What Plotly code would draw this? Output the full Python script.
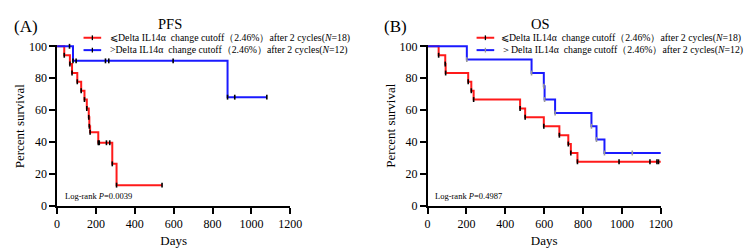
import plotly.graph_objects as go

# ---------------- data ----------------
# PFS (panel A)
pfs_low_days = [0, 37, 66, 77, 104, 124, 141, 153, 163, 166, 170, 212, 284, 306, 540]
pfs_low_surv = [100, 94.4, 88.9, 83.3, 77.8, 72.2, 66.7, 61.1, 55.6, 50.0, 46.3, 39.7, 26.5, 13.2, 13.2]
pfs_low_cens_days = [217, 254, 271, 540]
pfs_low_cens_surv = [39.7, 39.7, 39.7, 13.2]

pfs_high_days = [0, 82, 877, 1079]
pfs_high_surv = [100, 90.9, 68.2, 68.2]
pfs_high_cens_days = [64, 98, 249, 266, 597, 914, 1079]
pfs_high_cens_surv = [100, 90.9, 90.9, 90.9, 90.9, 68.2, 68.2]

# OS (panel B)
os_low_days = [0, 57, 91, 93, 209, 225, 237, 476, 502, 598, 678, 724, 737, 771, 1200]
os_low_surv = [100, 94.4, 88.9, 83.3, 77.8, 72.2, 66.7, 61.1, 55.6, 50.0, 44.4, 38.9, 33.3, 27.8, 27.8]
os_low_cens_days = [985, 1144, 1180, 1188]
os_low_cens_surv = [27.8, 27.8, 27.8, 27.8]

os_high_days = [0, 202, 535, 598, 602, 656, 843, 869, 910, 1200]
os_high_surv = [100, 91.7, 83.3, 75.0, 66.7, 58.3, 50.0, 41.7, 33.3, 33.3]
os_high_cens_days = [1053]
os_high_cens_surv = [33.3]

x_ticks = [0, 200, 400, 600, 800, 1000, 1200]
y_ticks = [0, 20, 40, 60, 80, 100]

label_low = "⩽Delta IL14α  change cutoff（2.46%）after 2 cycles(<i>N</i>=18)"
label_high_a = "&gt;Delta IL14α  change cutoff（2.46%）after 2 cycles(<i>N</i>=12)"
label_high_b = "＞Delta IL14α  change cutoff（2.46%）after 2 cycles(<i>N</i>=12)"
p_values = ["0.0039", "0.4987"]
panel_titles = ["PFS", "OS"]
panel_letters = ["(A)", "(B)"]

RED = "#ff1a1a"
BLUE = "#1a1aff"
FONT = "Liberation Serif"

fig = go.Figure()


def add_curve(days, surv, cdays, csurv, color, tickcolor, xa, ya):
    fig.add_trace(go.Scatter(x=days, y=surv, mode="lines", line=dict(color=color, width=2, shape="hv"),
                             xaxis=xa, yaxis=ya, showlegend=False, hoverinfo="skip"))
    tx = days[1:-1] + cdays
    ty = surv[1:-1] + csurv
    fig.add_trace(go.Scatter(x=tx, y=ty, mode="markers",
                             marker=dict(symbol="line-ns", size=3.5, line=dict(color=tickcolor, width=1.6)),
                             xaxis=xa, yaxis=ya, showlegend=False, cliponaxis=False, hoverinfo="skip"))


add_curve(pfs_low_days, pfs_low_surv, pfs_low_cens_days, pfs_low_cens_surv, RED, "black", "x", "y")
add_curve(pfs_high_days, pfs_high_surv, pfs_high_cens_days, pfs_high_cens_surv, BLUE, "black", "x", "y")
add_curve(os_low_days, os_low_surv, os_low_cens_days, os_low_cens_surv, RED, "black", "x2", "y2")
add_curve(os_high_days, os_high_surv, os_high_cens_days, os_high_cens_surv, BLUE, "#999999", "x2", "y2")

W, H = 756, 250
axis_common = dict(showline=True, linecolor="black", linewidth=1.5, ticks="outside", ticklen=6,
                   tickwidth=1.5, tickcolor="black", showgrid=False, zeroline=False,
                   tickfont=dict(family=FONT, size=12, color="black"))

xdom_a = [47 / W, 285 / W]
xdom_b = [425 / W, 663 / W]
ydom = [1 - 203 / H, 1 - 33.3 / H]

fig.update_layout(
    width=W, height=H,
    margin=dict(l=0, r=0, t=0, b=0),
    paper_bgcolor="white", plot_bgcolor="white",
    font=dict(family=FONT, color="black"),
    showlegend=False,
    xaxis=dict(domain=xdom_a, range=[0, 1200], tickvals=x_ticks, anchor="y",
               title=dict(text="Days", font=dict(family=FONT, size=13), standoff=5), **axis_common),
    yaxis=dict(domain=ydom, range=[0, 101], tickvals=y_ticks, anchor="x", **axis_common),
    xaxis2=dict(domain=xdom_b, range=[0, 1200], tickvals=x_ticks, anchor="y2",
                title=dict(text="Days", font=dict(family=FONT, size=13), standoff=5), **axis_common),
    yaxis2=dict(domain=ydom, range=[0, 101], tickvals=y_ticks, anchor="x2", **axis_common),
)

annotations = []
shapes = []
# manual legends: (swatch x0, x1, text x) in px, rows in px
legend_specs = [
    (74, 92, 99, [(label_low, RED, "black"), (label_high_a, BLUE, "black")]),
    (475, 493, 498, [(label_low, RED, "black"), (label_high_b, BLUE, "#999999")]),
]
rows_px = [26, 39]
for (x0, x1, xt, items) in legend_specs:
    for (txt, col, tcol), ry in zip(items, rows_px):
        yp = 1 - ry / H
        shapes.append(dict(type="line", xref="paper", yref="paper", x0=x0 / W, x1=x1 / W, y0=yp, y1=yp,
                           line=dict(color=col, width=2)))
        xm = (x0 + x1) / 2 / W
        shapes.append(dict(type="line", xref="paper", yref="paper", x0=xm, x1=xm, y0=yp - 2.5 / H,
                           y1=yp + 2.5 / H, line=dict(color=tcol, width=1.3)))
        annotations.append(dict(text=txt, x=xt / W, y=yp, xref="paper", yref="paper", xanchor="left",
                                yanchor="middle", showarrow=False,
                                font=dict(family=FONT, size=9.8, color="black")))

for i, (xd, xr, yr) in enumerate([(xdom_a, "x", "y"), (xdom_b, "x2", "y2")]):
    cx = (xd[0] + xd[1]) / 2
    off = 0 if i == 0 else 378
    annotations.append(dict(text=panel_titles[i], x=cx - 0.005, y=1 - 12 / H, xref="paper", yref="paper",
                            xanchor="center", yanchor="middle", showarrow=False,
                            font=dict(family=FONT, size=14.5, color="black")))
    annotations.append(dict(text=panel_letters[i], x=(off + 1) / W, y=1 - 14 / H,
                            xref="paper", yref="paper", xanchor="left", yanchor="middle", showarrow=False,
                            font=dict(family=FONT, size=17, color="black")))
    annotations.append(dict(text="Percent survival", x=(off + 9) / W, y=(ydom[0] + ydom[1]) / 2,
                            xref="paper", yref="paper", xanchor="center", yanchor="middle", textangle=-90,
                            showarrow=False, font=dict(family=FONT, size=13, color="black")))
    annotations.append(dict(text="Log-rank <i>P</i>=" + p_values[i], x=30, y=6.5, xref=xr, yref=yr,
                            xanchor="left", yanchor="middle", showarrow=False,
                            font=dict(family=FONT, size=8.5, color="black")))
fig.update_layout(annotations=annotations, shapes=shapes)

fig.write_html("out.html")
